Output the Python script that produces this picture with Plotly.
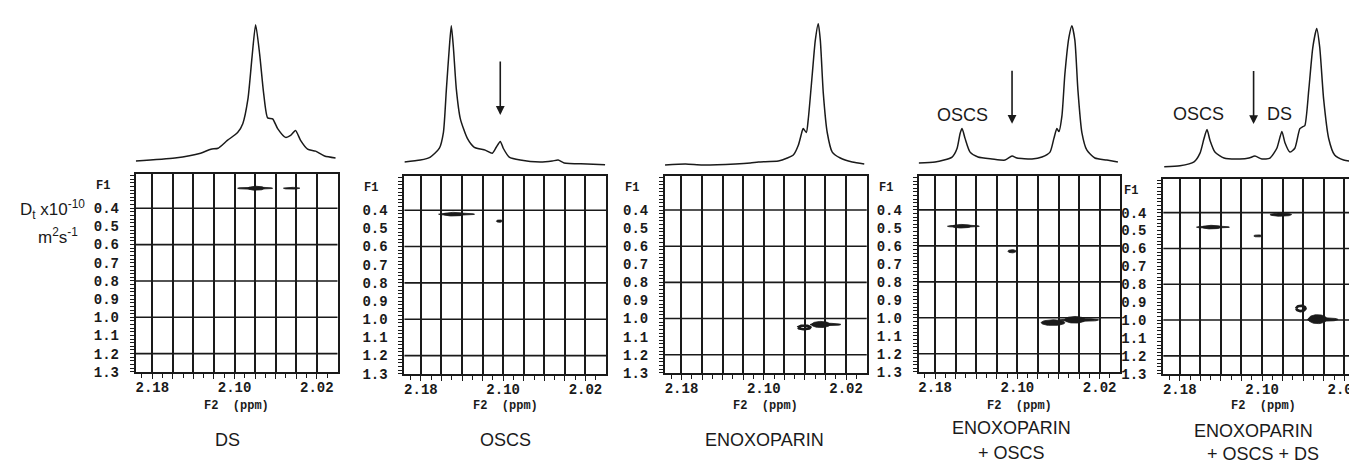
import numpy as np
import plotly.graph_objects as go

# ---------------- data ----------------
PANEL_TITLES = [["DS"], ["OSCS"], ["ENOXOPARIN"], ["ENOXOPARIN", "+ OSCS"], ["ENOXOPARIN", "+ OSCS + DS"]]

# 1D spectra: chemical shift (ppm) and relative intensity (%)
DS_PPM = [2.196, 2.158, 2.133, 2.123, 2.116, 2.107, 2.097, 2.092, 2.087, 2.083, 2.0795, 2.0756,
          2.0717, 2.0678, 2.063, 2.0581, 2.0504, 2.0455, 2.0407, 2.0358, 2.029, 2.0212, 2.0125, 2.0018]
DS_INT = [0.7, 2.9, 6.4, 9.3, 10.0, 15.7, 21.4, 27.9, 45.7, 76.4, 100, 78.6,
          50.0, 32.1, 31.4, 24.3, 17.9, 19.3, 22.9, 15.7, 9.3, 7.9, 4.3, 2.9]

OSCS_PPM = [2.196, 2.1805, 2.1708, 2.162, 2.1581, 2.1552, 2.1523, 2.1504, 2.1484, 2.1455, 2.1416, 2.1348, 2.128,
            2.1174, 2.1106, 2.1067, 2.1028, 2.0999, 2.0941, 2.0834, 2.064, 2.0523, 2.0465, 2.0407, 2.0183, 2.0009]
OSCS_INT = [0.7, 2.1, 4.3, 10.7, 22.1, 53.6, 84.3, 100, 84.3, 53.6, 32.1, 17.9, 11.4,
            9.3, 7.1, 11.4, 15.7, 10.7, 4.3, 2.1, 0.7, 1.4, 2.1, 0.0, -0.7, -1.4]

ENOX_PPM = [2.196, 2.1761, 2.1596, 2.1276, 2.113, 2.1052, 2.0858, 2.0771, 2.0713, 2.0664, 2.0625, 2.0616,
            2.0586, 2.0567, 2.0528, 2.0499, 2.047, 2.045, 2.0421, 2.0383, 2.0334, 2.0256, 2.014, 2.0023]
ENOX_INT = [-0.7, 0, -0.7, 0, 0.7, 1.4, 2.1, 4.2, 6.3, 13.3, 23.8, 25.2,
            22.4, 32.2, 64.3, 88.1, 100, 88.1, 50.3, 22.4, 8.4, 4.2, 1.4, 0]

MIX1_PPM = [2.196, 2.18, 2.1635, 2.1586, 2.1557, 2.1538, 2.1509, 2.146, 2.1383, 2.1247, 2.112, 2.1052, 2.1004,
            2.0858, 2.0761, 2.0683, 2.0645, 2.0616, 2.0596, 2.0567, 2.0538, 2.0499, 2.047, 2.0441, 2.0412,
            2.0373, 2.0324, 2.0247, 2.013, 2.0023]
MIX1_INT = [-0.7, 0, 3.6, 10.1, 20.9, 24.5, 17.3, 7.2, 3.6, 2.2, 1.4, 4.3, 2.9,
            2.2, 3.6, 7.2, 17.3, 24.5, 22.3, 33.8, 64.7, 91.4, 100, 89.2, 53.2,
            21.6, 8.6, 2.9, 1.4, 0]

MIX2_PPM = [2.1951, 2.1797, 2.1661, 2.1603, 2.1564, 2.1535, 2.1506, 2.1458, 2.137, 2.1215, 2.1127, 2.1069,
            2.1001, 2.0923, 2.0856, 2.0807, 2.0778, 2.0729, 2.0681, 2.0632, 2.0603, 2.0584, 2.0545, 2.0506,
            2.0468, 2.0439, 2.0401, 2.0352, 2.0294, 2.0207, 2.005, 2.0012]
MIX2_INT = [-1.4, -0.7, 2.2, 8.6, 19.4, 25.9, 18.0, 9.4, 5.0, 4.3, 5.0, 6.5,
            4.3, 5.0, 12.2, 24.5, 16.5, 9.4, 12.2, 26.6, 28.1, 28.8, 55.4, 86.3,
            100, 86.3, 48.2, 19.4, 7.2, 3.6, 2.2, 2.2]

SPEC_PPM = [DS_PPM, OSCS_PPM, ENOX_PPM, MIX1_PPM, MIX2_PPM]
SPEC_INT = [DS_INT, OSCS_INT, ENOX_INT, MIX1_INT, MIX2_INT]

# 2D DOSY cross peaks: centre shift (ppm), centre D (x1e-10 m2/s), extent in ppm and in D, open contour
XP_PPM = [[2.080, 2.079, 2.0445],
          [2.1453, 2.148, 2.1036],
          [2.0606, 2.0445, 2.040],
          [2.1525, 2.154, 2.1052, 2.0654, 2.044, 2.040],
          [2.1477, 2.149, 2.104, 2.0817, 2.0622, 2.046, 2.041]]
XP_D = [[0.29, 0.29, 0.29],
        [0.422, 0.422, 0.46],
        [1.049, 1.033, 1.033],
        [0.491, 0.491, 0.63, 1.027, 1.011, 1.012],
        [0.481, 0.481, 0.53, 0.411, 0.935, 0.995, 0.997]]
XP_W = [[0.034, 0.016, 0.016],
        [0.035, 0.020, 0.006],
        [0.012, 0.018, 0.030],
        [0.031, 0.018, 0.008, 0.023, 0.020, 0.038],
        [0.032, 0.018, 0.008, 0.021, 0.009, 0.018, 0.030]]
XP_H = [[0.012, 0.022, 0.010],
        [0.012, 0.020, 0.014],
        [0.020, 0.034, 0.014],
        [0.012, 0.020, 0.018, 0.032, 0.037, 0.016],
        [0.012, 0.020, 0.012, 0.018, 0.030, 0.050, 0.020]]
XP_OPEN = [[False] * 3, [False] * 3, [True, False, False], [False] * 6,
           [False, False, False, False, True, False, False]]

# arrows on spectra (ppm, tip intensity, tail intensity)
ARROW_PPM = [None, 2.1028, None, 2.1052, 2.1082]
ARROW_TIP = [None, 35, None, 28, 30]
ARROW_TAIL = [None, 75, None, 68, 70]

# peak labels on spectra
SPEC_LABEL_PANEL = [3, 4, 4]
SPEC_LABEL_TEXT = ["OSCS", "OSCS", "DS"]
SPEC_LABEL_PPM = [2.1538, 2.1613, 2.0826]
SPEC_LABEL_INT = [34.5, 37.4, 37.4]

X_TICK_PPM = [2.18, 2.16, 2.14, 2.12, 2.10, 2.08, 2.06, 2.04, 2.02]
X_TICK_TEXT = ["2.18", "", "", "", "2.10", "", "", "", "2.02"]
D_GRID = [0.4, 0.6, 0.8, 1.0, 1.2]

# ---------------- layout (pixels) ----------------
W, H = 1357, 464
PX_PER_PPM = 1030.0
BOX = [(128, 330, 169, 371), (397, 599, 171, 373), (658, 860, 171, 372),
       (912, 1114, 171, 371), (1157, 1357, 174, 373)]
SPEC_PX = [(157, 17), (158, 18), (159, 16), (157, 18), (160, 21)]  # px of 0 % and 100 %
SPEC_TOP, SPEC_BOT = 6, 166
TITLE_PX = [[(220, 441)], [(498, 441)], [(758, 441)],
            [(1005, 428), (1005, 454)], [(1247, 431), (1257, 455)]]

INK = "#1a1a1a"
MONO = "Liberation Mono, Courier New, monospace"
SANS = "Liberation Sans, Arial, sans-serif"

fig = go.Figure()
layout = dict(width=W, height=H, margin=dict(l=0, r=0, t=0, b=0),
              paper_bgcolor="white", plot_bgcolor="white", showlegend=False)
shapes, annotations = [], []

y_ruler = [round(v, 2) for v in np.arange(0.22, 1.3001, 0.02)]
x_minor = [round(v, 2) for v in np.arange(2.19, 2.0, -0.02)]

for i in range(5):
    left, right, top, bot = BOX[i]
    xr = [2.196, 2.196 - (right - left) / PX_PER_PPM]
    ns, nd = 2 * i + 1, 2 * i + 2
    sx, sy = ("x" if ns == 1 else f"x{ns}"), ("y" if ns == 1 else f"y{ns}")
    dx, dy = f"x{nd}", f"y{nd}"

    # ---- spectrum ----
    base, peak = SPEC_PX[i]
    s = (base - peak) / 100.0
    yr = [-(SPEC_BOT - base) / s, 100 + (peak - SPEC_TOP) / s]
    fig.add_trace(go.Scatter(x=SPEC_PPM[i], y=SPEC_INT[i], mode="lines",
                             line=dict(color=INK, width=1.5, shape="spline", smoothing=0.6),
                             xaxis=sx, yaxis=sy, hoverinfo="skip", cliponaxis=True))
    layout["xaxis" if ns == 1 else f"xaxis{ns}"] = dict(
        domain=[left / W, right / W], range=xr, visible=False, fixedrange=True)
    layout["yaxis" if ns == 1 else f"yaxis{ns}"] = dict(
        domain=[1 - SPEC_BOT / H, 1 - SPEC_TOP / H], range=yr, visible=False, fixedrange=True)

    if ARROW_PPM[i] is not None:
        annotations.append(dict(xref=sx, yref=sy, axref=sx, ayref=sy,
                                x=ARROW_PPM[i], y=ARROW_TIP[i], ax=ARROW_PPM[i], ay=ARROW_TAIL[i],
                                text="", showarrow=True, arrowhead=2, arrowsize=1.1,
                                arrowwidth=1.6, arrowcolor=INK))

    # ---- 2D DOSY ----
    t = np.linspace(0, 2 * np.pi, 49)
    for c, d, w, h, op in zip(XP_PPM[i], XP_D[i], XP_W[i], XP_H[i], XP_OPEN[i]):
        ex = c + w / 2 * np.cos(t)
        ey = d + h / 2 * np.sin(t)
        if op:
            fig.add_trace(go.Scatter(x=ex, y=ey, mode="lines", line=dict(color=INK, width=2.6),
                                     xaxis=dx, yaxis=dy, hoverinfo="skip"))
        else:
            fig.add_trace(go.Scatter(x=ex, y=ey, mode="lines", fill="toself", fillcolor=INK,
                                     line=dict(color=INK, width=0.8),
                                     xaxis=dx, yaxis=dy, hoverinfo="skip"))

    layout[f"xaxis{nd}"] = dict(
        domain=[left / W, right / W], range=xr, anchor=dy, fixedrange=True,
        tickmode="array", tickvals=X_TICK_PPM, ticktext=X_TICK_TEXT,
        ticks="outside", ticklen=5, tickwidth=1.4, tickcolor=INK,
        showgrid=True, gridcolor=INK, gridwidth=1.5, zeroline=False,
        showline=True, linecolor=INK, linewidth=2, mirror=True,
        minor=dict(tickmode="array", tickvals=x_minor, ticks="outside", ticklen=4,
                   tickwidth=1.2, tickcolor=INK, showgrid=False),
        tickfont=dict(family=MONO, size=14, color=INK, weight="bold"), ticklabelstandoff=-4)
    layout[f"yaxis{nd}"] = dict(
        domain=[1 - bot / H, 1 - top / H], range=[1.3, 0.21], anchor=dx, fixedrange=True,
        tickmode="array", tickvals=y_ruler,
        ticktext=[(f"{v:.1f}" if round(v, 1) == v and v >= 0.39 else "") for v in y_ruler],
        ticks="outside", ticklen=4, tickwidth=1, tickcolor=INK,
        showgrid=False, zeroline=False,
        showline=True, linecolor=INK, linewidth=2, mirror=True,
        tickfont=dict(family=MONO, size=14, color=INK, weight="bold"), ticklabelstandoff=8)

    for g in D_GRID:
        shapes.append(dict(type="line", xref=f"{dx} domain", yref=dy, x0=0, x1=1, y0=g, y1=g,
                           line=dict(color=INK, width=1.6), layer="below"))

    annotations.append(dict(xref=f"{dx} domain", yref=dy, x=-42 / 202, y=0.28, xanchor="left",
                            yanchor="middle", text="F1", showarrow=False,
                            font=dict(family=MONO, size=12, color=INK, weight="bold")))
    annotations.append(dict(xref=f"{dx} domain", yref="paper", x=0.5, y=1 - 406 / H,
                            xanchor="center", yanchor="middle", text="F2\u00a0\u00a0(ppm)",
                            showarrow=False, font=dict(family=MONO, size=12, color=INK, weight="bold")))
    for txt, (px, py) in zip(PANEL_TITLES[i], TITLE_PX[i]):
        annotations.append(dict(xref="paper", yref="paper", x=px / W, y=1 - py / H,
                                xanchor="center", yanchor="middle", text=txt, showarrow=False,
                                font=dict(family=SANS, size=18, color=INK)))

for p, txt, ppm, inten in zip(SPEC_LABEL_PANEL, SPEC_LABEL_TEXT, SPEC_LABEL_PPM, SPEC_LABEL_INT):
    ns = 2 * p + 1
    annotations.append(dict(xref=f"x{ns}", yref=f"y{ns}", x=ppm, y=inten, xanchor="center",
                            yanchor="middle", text=txt, showarrow=False,
                            font=dict(family=SANS, size=18, color=INK)))

# axis title for the diffusion coefficient
annotations.append(dict(xref="paper", yref="paper", x=45 / W, y=1 - 205 / H, xanchor="center",
                        yanchor="middle", text="D<sub>t</sub> x10<sup>-10</sup>", showarrow=False,
                        font=dict(family=SANS, size=17, color=INK)))
annotations.append(dict(xref="paper", yref="paper", x=50 / W, y=1 - 233 / H, xanchor="center",
                        yanchor="middle", text="m<sup>2</sup>s<sup>-1</sup>", showarrow=False,
                        font=dict(family=SANS, size=17, color=INK)))

layout["shapes"] = shapes
layout["annotations"] = annotations
fig.update_layout(**layout)
fig.write_html("out.html")
